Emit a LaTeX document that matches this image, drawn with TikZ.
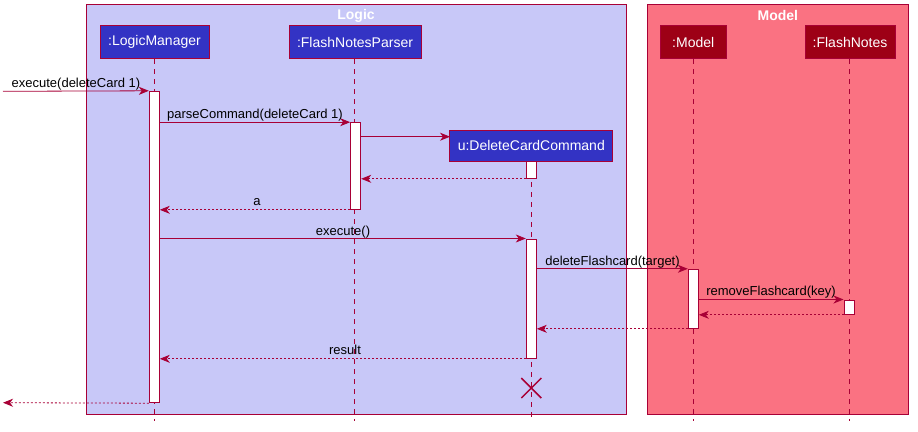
\documentclass[tikz,border=0pt]{standalone}
\usepackage{fontspec}
\setmainfont{Liberation Sans}
\usetikzlibrary{arrows.meta}
\definecolor{bord}{HTML}{A80036}
\definecolor{logicbg}{HTML}{C8C8F8}
\definecolor{modelbg}{HTML}{FA7282}
\definecolor{partblue}{HTML}{3333C4}
\definecolor{partred}{HTML}{9D0016}
\begin{document}
\begin{tikzpicture}[x=1pt,y=-1pt,
  grp/.style={draw=bord, line width=1pt},
  grptitle/.style={text=white, font=\fontsize{14}{16}\selectfont\bfseries, inner sep=0},
  part/.style={draw=bord, line width=1pt, text=white, font=\fontsize{14}{16}\selectfont, inner sep=0, minimum height=33pt},
  life/.style={draw=bord, line width=0.8pt, dash pattern=on 5pt off 5pt},
  act/.style={draw=bord, fill=white, line width=1pt, minimum width=10pt, inner sep=0},
  msg/.style={draw=bord, line width=0.8pt, -{Stealth[length=10pt,width=8pt,inset=3pt]}},
  ret/.style={msg, dash pattern=on 2pt off 2pt},
  lbl/.style={font=\fontsize{13}{15}\selectfont, inner sep=0, anchor=base},
  xmark/.style={draw=bord, line width=1.5pt}
]
\useasboundingbox (0,0) rectangle (918,431);
% groups
\path[grp, fill=logicbg] (86,4) rectangle (626,414);
\path[grp, fill=modelbg] (647.3,4) rectangle (908.3,414);
\node[grptitle] (tLogic) at (356,15.5) {Logic};
\node[grptitle] (tModel) at (777.8,15.5) {Model};
% participants
\node[part, fill=partblue, minimum width=109pt] (lm) at (154.5,42.2) {:LogicManager};
\node[part, fill=partblue, minimum width=132pt] (fp) at (355,42.2) {:FlashNotesParser};
\node[part, fill=partblue, minimum width=162.7pt, minimum height=31.7pt] (dcc) at (531.3,145.9) {u:DeleteCardCommand};
\node[part, fill=partred, minimum width=65.7pt] (md) at (693.2,42.2) {:Model};
\node[part, fill=partred, minimum width=90pt] (fn) at (850,42.2) {:FlashNotes};
% lifeline ends
\coordinate (lmEnd) at (154.3,421);
\coordinate (fpEnd) at (354.5,421);
\coordinate (dccEnd) at (531.3,421);
\coordinate (mdEnd) at (693.3,421);
\coordinate (fnEnd) at (849.3,421);
\draw[life] (lm.south -| lmEnd) -- (lmEnd);
\draw[life] (fp.south -| fpEnd) -- (fpEnd);
\draw[life] (dcc.south -| dccEnd) -- (dccEnd);
\draw[life] (md.south -| mdEnd) -- (mdEnd);
\draw[life] (fn.south -| fnEnd) -- (fnEnd);
% activations
\node[act, minimum height=311.4pt] (aLM) at (154.3,247) {};
\node[act, minimum height=86.6pt] (aFP) at (355.7,166) {};
\node[act, minimum height=16.6pt] (aD1) at (531.3,170) {};
\node[act, minimum height=119.3pt] (aD2) at (531.3,298.65) {};
\node[act, minimum height=59pt] (aMD) at (693.3,298.8) {};
\node[act, minimum height=14.3pt] (aFN) at (849,307.15) {};
% destroy
\coordinate (xc) at (531.3,388);
\draw[xmark] ([shift={(-10,-10)}]xc) -- ([shift={(10,10)}]xc);
\draw[xmark] ([shift={(-10,10)}]xc) -- ([shift={(10,-10)}]xc);
% messages
\coordinate (inStart) at (3,91.3);
\coordinate (outEnd) at (3,402.7);
\coordinate (cr) at (450,136.7);
\draw[msg] (inStart) -- (aLM.north west);
\node[lbl] (l1) at (76,87) {execute(deleteCard 1)};
\draw[msg] (aLM.east |- aFP.north) -- (aFP.north west);
\node[lbl] (l2) at (255,118.4) {parseCommand(deleteCard 1)};
\draw[msg] (aFP.east |- cr) -- (cr);
\draw[ret] (aD1.south west) -- (aFP.east |- aD1.south);
\draw[ret] (aFP.south west) -- (aLM.east |- aFP.south);
\node[lbl] (l3) at (257,205) {a};
\draw[msg] (aLM.east |- aD2.north) -- (aD2.north west);
\node[lbl] (l4) at (343,235) {execute()};
\draw[msg] (aD2.east |- aMD.north) -- (aMD.north west);
\node[lbl] (l5) at (612.5,265) {deleteFlashcard(target)};
\draw[msg] (aMD.east |- aFN.north) -- (aFN.north west);
\node[lbl] (l6) at (771,295.7) {removeFlashcard(key)};
\draw[ret] (aFN.south west) -- (aMD.east |- aFN.south);
\draw[ret] (aMD.south west) -- (aD2.east |- aMD.south);
\draw[ret] (aD2.south west) -- (aLM.east |- aD2.south);
\node[lbl] (l7) at (345,354) {result};
\draw[ret] (aLM.south west) -- (outEnd);
\end{tikzpicture}
\end{document}
